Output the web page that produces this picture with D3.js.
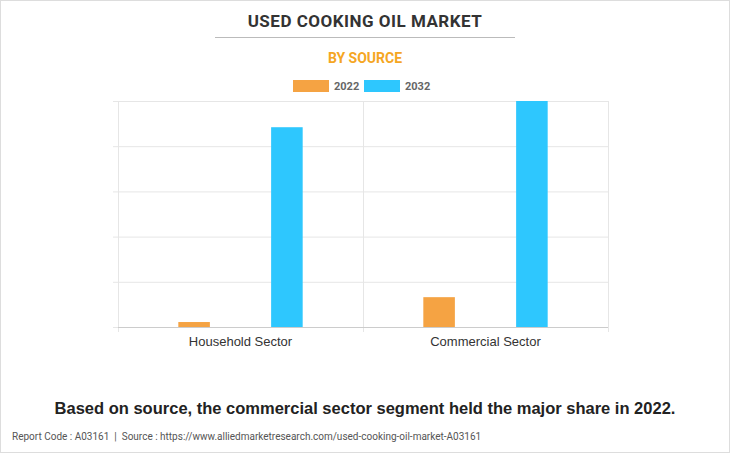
<!DOCTYPE html>
<meta charset="utf-8">
<style>
  body { margin: 0; background: #fff; }
  svg { font-family: Roboto, "Open Sans", Arial, sans-serif; }
  .grid line { stroke: #e6e6e6; }
  text { white-space: pre; }
</style>
<svg width="730" height="453"></svg>
<script src="https://cdnjs.cloudflare.com/ajax/libs/d3/7.8.5/d3.min.js"></script>
<script>

var categories = ["Household Sector", "Commercial Sector"],
    series = ["2022", "2032"],
    colors = ["#f5a343", "#2ec7fe"],
    values2022 = [0.11, 0.66],
    values2032 = [4.42, 5.0],
    yTicks = [0, 1, 2, 3, 4, 5];

var svg = d3.select("svg");

svg.append("rect")
    .attr("x", 0.5).attr("y", 0.5).attr("width", 729).attr("height", 452)
    .attr("fill", "#fff").attr("stroke", "#ddd");

var pLeft = 118, pRight = 608, pTop = 101, pBottom = 327;

var x = d3.scaleBand().domain(categories).range([pLeft, pRight]);
var x1 = d3.scaleBand().domain(series).range([0, x.bandwidth()]).paddingInner(0.66).paddingOuter(0.65);
var y = d3.scaleLinear().domain([0, 5]).range([pBottom, pTop]);

// grid
var grid = svg.append("g").attr("class", "grid");
grid.selectAll(".h").data(yTicks).join("line")
    .attr("x1", pLeft - 5).attr("x2", pRight)
    .attr("y1", function(d) { return y(d) + 0.5; })
    .attr("y2", function(d) { return y(d) + 0.5; });
grid.selectAll(".v").data([pLeft, pLeft + x.bandwidth(), pRight]).join("line")
    .attr("x1", function(d) { return d + 0.5; }).attr("x2", function(d) { return d + 0.5; })
    .attr("y1", pTop).attr("y2", pBottom + 5);

// bars
var rows = categories.map(function(c, i) { return {cat: c, vals: [values2022[i], values2032[i]]}; });
var groups = svg.selectAll(".cat").data(rows).join("g")
    .attr("transform", function(d) { return "translate(" + x(d.cat) + ",0)"; });
groups.selectAll("rect").data(function(d) { return d.vals; }).join("rect")
    .attr("x", function(d, i) { return x1(series[i]); })
    .attr("width", x1.bandwidth())
    .attr("y", function(d) { return y(d); })
    .attr("height", function(d) { return pBottom - y(d); })
    .attr("fill", function(d, i) { return colors[i]; });

svg.append("line").attr("x1", pLeft).attr("x2", pRight)
    .attr("y1", pBottom + 0.5).attr("y2", pBottom + 0.5).attr("stroke", "#ccc");

// x labels
svg.selectAll(".xl").data(categories).join("text")
    .attr("x", function(d) { return x(d) + x.bandwidth() / 2; })
    .attr("y", 346)
    .attr("text-anchor", "middle").attr("font-size", 13).attr("fill", "#333")
    .attr("font-family", "Arial, 'Liberation Sans', sans-serif")
    .text(function(d) { return d; });

// titles
svg.append("text").attr("x", 365).attr("y", 27).attr("text-anchor", "middle")
    .attr("font-size", 17).attr("font-weight", "bold").attr("fill", "#333")
    .attr("letter-spacing", 0.5).text("USED COOKING OIL MARKET");
svg.append("line").attr("x1", 215).attr("x2", 515).attr("y1", 37.5).attr("y2", 37.5).attr("stroke", "#bbb");
svg.append("text").attr("x", 365).attr("y", 63).attr("text-anchor", "middle")
    .attr("font-size", 14).attr("font-weight", "bold").attr("fill", "#f5a623")
    .text("BY SOURCE");

// legend
var lg = svg.selectAll(".lg").data(series).join("g")
    .attr("transform", function(d, i) { return "translate(" + (293 + i * 71) + ",80)"; });
lg.append("rect").attr("width", 36).attr("height", 12).attr("fill", function(d, i) { return colors[i]; });
lg.append("text").attr("x", 41).attr("y", 10).attr("font-size", 11).attr("font-weight", "bold")
    .attr("fill", "#666").text(function(d) { return d; });

svg.append("text").attr("x", 365).attr("y", 414).attr("text-anchor", "middle")
    .attr("font-size", 16.5).attr("font-weight", "bold").attr("fill", "#222")
    .attr("font-family", "Arial, 'Liberation Sans', sans-serif")
    .text("Based on source, the commercial sector segment held the major share in 2022.");
svg.append("text").attr("x", 12).attr("y", 440)
    .attr("font-size", 10).attr("fill", "#555")
    .text("Report Code : A03161  |  Source : https://www.alliedmarketresearch.com/used-cooking-oil-market-A03161");

</script>
